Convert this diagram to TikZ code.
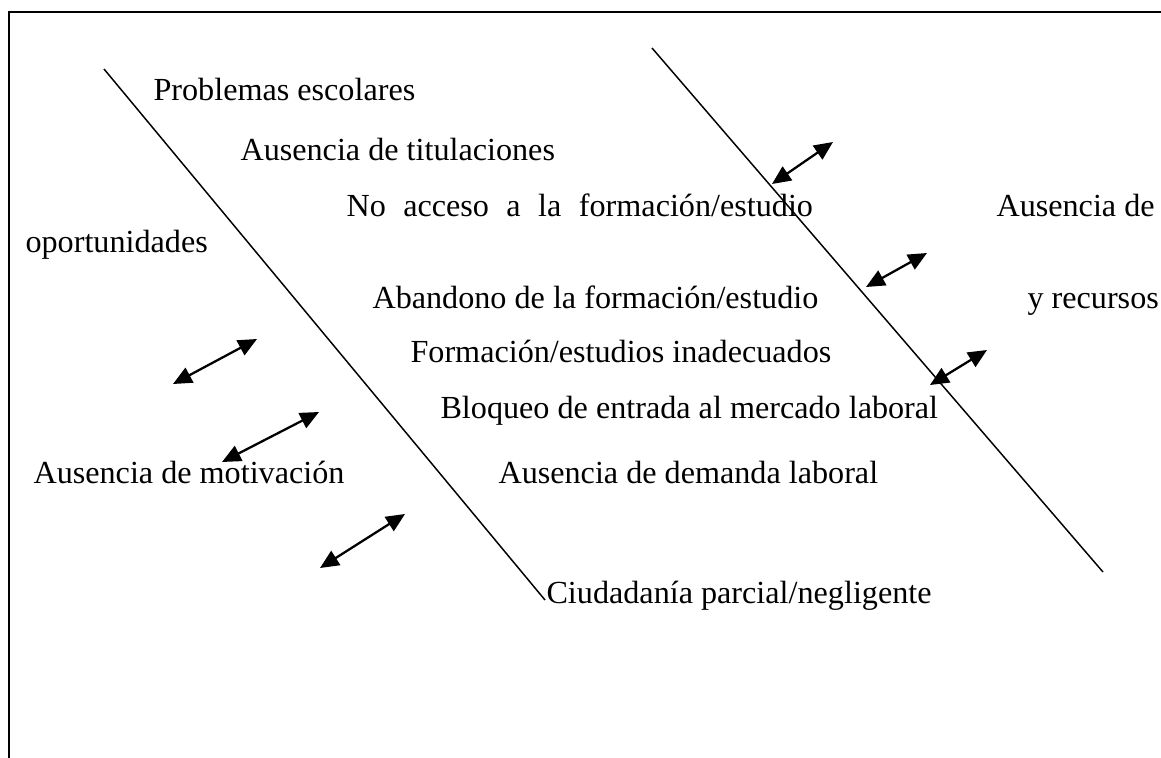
\documentclass[tikz,border=0pt]{standalone}
\usepackage{fontspec}
\setmainfont{Liberation Serif}
\usetikzlibrary{arrows.meta,positioning}

\begin{document}
\begin{tikzpicture}[
    x=0.373pt, y=-0.373pt,
    cause/.style={anchor=base west, inner sep=0pt, font=\fontsize{12}{14}\selectfont},
    spine/.style={line width=0.55pt},
    twoway/.style={{Triangle[length=7pt,width=6.2pt]}-{Triangle[length=7pt,width=6.2pt]}, line width=0.85pt}
]
\useasboundingbox (0,0) rectangle (1161,758);

% frame (left and top edges only)
\draw[line width=0.95pt] (9,758) -- (9,12) -- (1161,12);

% the two slanted lines
\coordinate (lefttop) at (104,69);
\coordinate (leftbot) at (545,600);
\coordinate (righttop) at (652,48);
\coordinate (rightbot) at (1103,572);
\draw[spine] (lefttop) -- (leftbot);
\draw[spine] (righttop) -- (rightbot);

% causes
\node[cause] (problemas) at (153,100) {Problemas escolares};
\node[cause] (titulaciones) at (240,160) {Ausencia de titulaciones};
\node[cause] (acceso) at (346,216) {\makebox[174pt][s]{No acceso a la formación/estudio}};
\node[cause] (ausencia) at (996,216) {Ausencia de};
\node[cause] (oportunidades) at (25,252) {oportunidades};
\node[cause] (abandono) at (372,308) {Abandono de la formación/estudio};
\node[cause] (recursos) at (1027,308) {y recursos};
\node[cause] (inadecuados) at (410,362) {Formación/estudios inadecuados};
\node[cause] (bloqueo) at (440,418) {Bloqueo de entrada al mercado laboral};
\node[cause] (motivacion) at (33,483) {Ausencia de motivación};
\node[cause] (demanda) at (498,483) {Ausencia de demanda laboral};
\node[cause] (ciudadania) at (546,603) {Ciudadanía parcial/negligente};

% double arrows
\coordinate (ra1) at (772,184);
\coordinate (rb1) at (833,142);
\coordinate (ra2) at (866,287);
\coordinate (rb2) at (927,253);
\coordinate (ra3) at (930,385);
\coordinate (rb3) at (987,350);
\coordinate (la1) at (173,384);
\coordinate (lb1) at (257,339);
\coordinate (la2) at (222,462);
\coordinate (lb2) at (319,412);
\coordinate (la3) at (320,568);
\coordinate (lb3) at (405,514);
\foreach \i in {1,2,3} {
    \draw[twoway] (ra\i) -- (rb\i);
    \draw[twoway] (la\i) -- (lb\i);
}
\end{tikzpicture}
\end{document}
